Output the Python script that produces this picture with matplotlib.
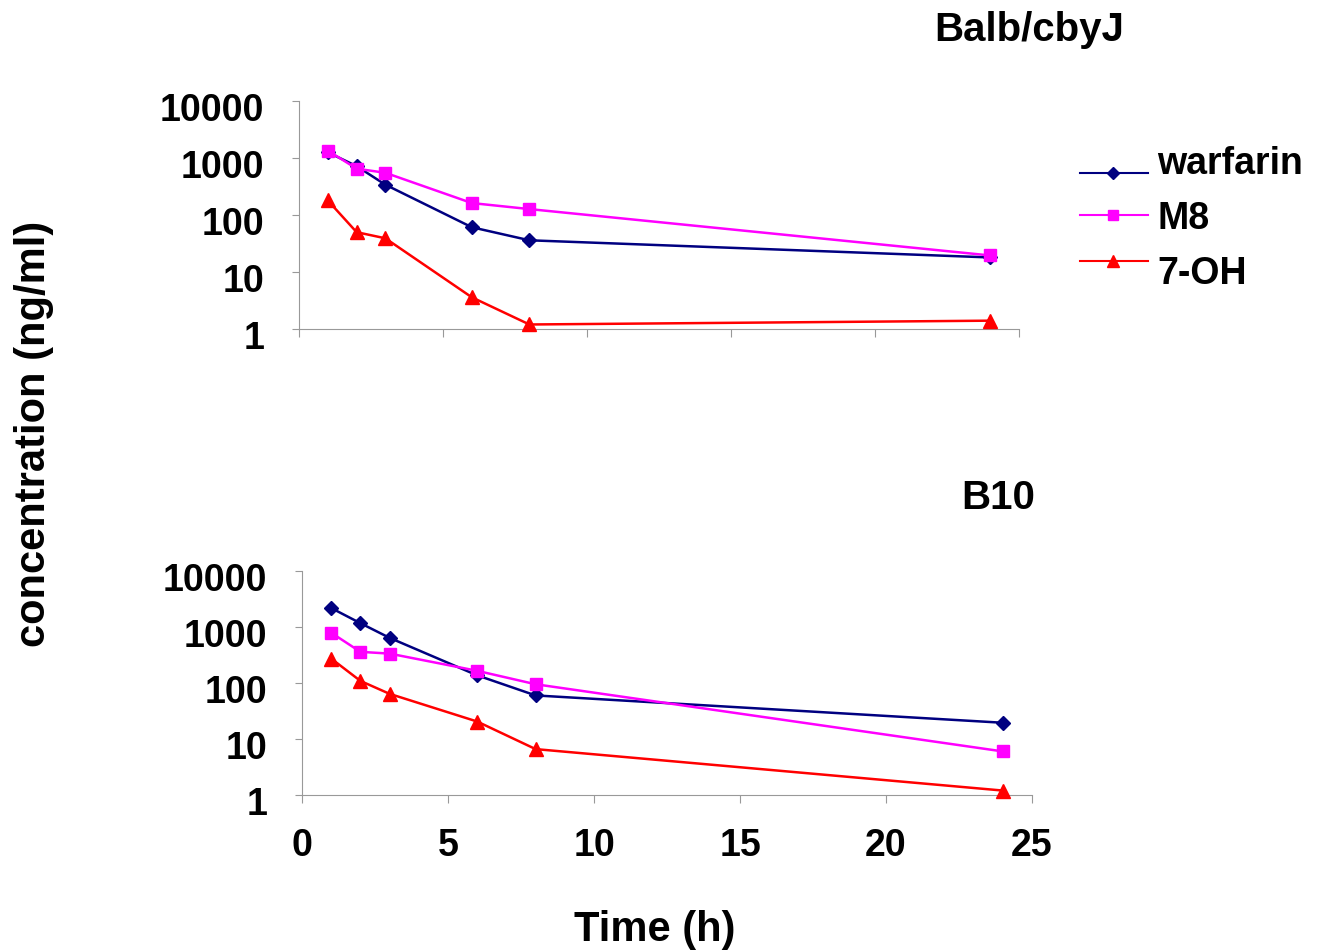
import matplotlib
matplotlib.use("Agg")
import matplotlib.pyplot as plt
import matplotlib.transforms as mtransforms
from matplotlib.lines import Line2D

plt.rcParams["font.family"] = ["Liberation Sans", "DejaVu Sans"]
plt.rcParams["font.weight"] = "bold"

# data
time_h = [1, 2, 3, 6, 8, 24]
series = ["warfarin", "M8", "7-OH"]

balb_warfarin = [1260, 720, 340, 61, 36, 18]
balb_m8 = [1350, 650, 550, 162, 127, 19.5]
balb_7oh = [180, 50, 39, 3.6, 1.2, 1.4]

b10_warfarin = [2180, 1170, 640, 137, 60, 19.5]
b10_m8 = [790, 360, 335, 165, 95, 6.0]
b10_7oh = [273, 109, 64, 20.5, 6.6, 1.2]

yticks = [1, 10, 100, 1000, 10000]
ytick_labels = ["1", "10", "100", "1000", "10000"]
xticks = [0, 5, 10, 15, 20, 25]

styles = {
    "warfarin": dict(color="#000080", marker="D", ms=7),
    "M8": dict(color="#FF00FF", marker="s", ms=8),
    "7-OH": dict(color="#FF0000", marker="^", ms=10),
}

W, H = 1321, 953
fig = plt.figure(figsize=(W / 100, H / 100), dpi=100)

ax_top = fig.add_axes([299 / W, 1 - 330 / H, 720 / W, 228 / H])
ax_bot = fig.add_axes([302 / W, 1 - 796 / H, 730 / W, 224 / H])

# excel puts the y labels a bit under their tick
shift_down = mtransforms.ScaledTranslation(0, -5 / 100, fig.dpi_scale_trans)

def style_axis(ax, show_xlabels):
    ax.set_yscale("log")
    ax.set_ylim(1, 10000)
    ax.set_xlim(0, 25)
    ax.set_yticks(yticks)
    ax.set_yticklabels(ytick_labels)
    ax.minorticks_off()
    ax.set_xticks(xticks)
    if show_xlabels:
        ax.set_xticklabels([str(x) for x in xticks])
    else:
        ax.set_xticklabels([])
    for s in ["top", "right"]:
        ax.spines[s].set_visible(False)
    for s in ["left", "bottom"]:
        ax.spines[s].set_color("#999999")
        ax.spines[s].set_linewidth(0.8)
    ax.tick_params(axis="y", length=5, width=0.8, color="#999999",
                   labelsize=27, pad=20)
    ax.tick_params(axis="x", length=6, width=0.8, color="#999999",
                   labelsize=27, pad=17)
    for lab in ax.get_xticklabels() + ax.get_yticklabels():
        lab.set_fontweight("bold")
    for lab in ax.get_yticklabels():
        lab.set_transform(lab.get_transform() + shift_down)

for ax, vals in [(ax_top, [balb_warfarin, balb_m8, balb_7oh]),
                 (ax_bot, [b10_warfarin, b10_m8, b10_7oh])]:
    for name, v in zip(series, vals):
        st = styles[name]
        ax.plot(time_h, v, color=st["color"], marker=st["marker"],
                markersize=st["ms"], lw=1.8, clip_on=False, zorder=3)

style_axis(ax_top, False)
style_axis(ax_bot, True)

fig.text(1029 / W, 1 - 30 / H, "Balb/cbyJ", ha="center", va="center",
         fontsize=29, fontweight="bold")
fig.text(998 / W, 1 - 498 / H, "B10", ha="center", va="center",
         fontsize=29, fontweight="bold")
fig.text(655 / W, 1 - 930 / H, "Time (h)", ha="center", va="center",
         fontsize=30, fontweight="bold")
fig.text(34 / W, 1 - 434 / H, "concentration (ng/ml)", ha="center",
         va="center", rotation=90, fontsize=30, fontweight="bold")

# legend drawn by hand, Excel style
leg_line_y = [174, 216, 262]
leg_text_y = [164, 219, 274]
for name, ly, ty in zip(series, leg_line_y, leg_text_y):
    st = styles[name]
    fig.add_artist(Line2D([1080 / W, 1148 / W], [1 - ly / H, 1 - ly / H],
                          transform=fig.transFigure, color=st["color"], lw=1.5))
    fig.add_artist(Line2D([1113 / W], [1 - ly / H], transform=fig.transFigure,
                          color=st["color"], marker=st["marker"],
                          markersize=st["ms"] - 1, lw=0))
    fig.text(1157 / W, 1 - ty / H, name, ha="left", va="center",
             fontsize=27, fontweight="bold")

fig.savefig("out.png", dpi=100)
